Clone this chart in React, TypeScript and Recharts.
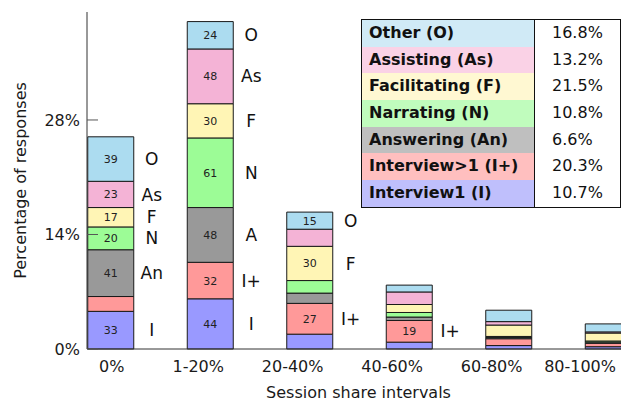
import React from 'react';
import { BarChart, Bar, XAxis, YAxis, LabelList, Legend } from 'recharts';

const CATEGORIES = ['0%', '1-20%', '20-40%', '40-60%', '60-80%', '80-100%'];

// response counts per session-share interval
const INTERVIEW1 = [33, 44, 13, 6, 3, 2];
const INTERVIEW_MULTI = [13, 32, 27, 19, 6, 3];
const ANSWERING = [41, 48, 9, 3, 1, 1];
const NARRATING = [20, 61, 11, 4, 1, 1];
const FACILITATING = [17, 30, 30, 7, 10, 7];
const ASSISTING = [23, 48, 15, 11, 3, 1];
const OTHER = [39, 24, 15, 6, 10, 7];
const TOTAL_RESPONSES = 717;

// which segments carry their count inside
const SHOW_I = [true, true, false, false, false, false];
const SHOW_IP = [false, true, true, true, false, false];
const SHOW_AN = [true, true, false, false, false, false];
const SHOW_N = [true, true, false, false, false, false];
const SHOW_F = [true, true, true, false, false, false];
const SHOW_AS = [true, true, false, false, false, false];
const SHOW_O = [true, true, true, false, false, false];

// short tags written to the right of the bars
const SIDE_I = ['I', 'I', '', '', '', ''];
const SIDE_IP = ['', 'I+', 'I+', 'I+', '', ''];
const SIDE_AN = ['An', 'A', '', '', '', ''];
const SIDE_N = ['N', 'N', '', '', '', ''];
const SIDE_F = ['F', 'F', 'F', '', '', ''];
const SIDE_AS = ['As', 'As', '', '', '', ''];
const SIDE_O = ['O', 'O', 'O', '', '', ''];

const Y_TICKS = [0, 14, 28];

const SERIES = [
  { key: 'I', name: 'Interview1 (I)', counts: INTERVIEW1, show: SHOW_I, side: SIDE_I, share: '10.7%', fill: '#9999ff', tint: '#bfbffc' },
  { key: 'Ip', name: 'Interview>1 (I+)', counts: INTERVIEW_MULTI, show: SHOW_IP, side: SIDE_IP, share: '20.3%', fill: '#ff9999', tint: '#ffbfbf' },
  { key: 'An', name: 'Answering (An)', counts: ANSWERING, show: SHOW_AN, side: SIDE_AN, share: '6.6%', fill: '#999999', tint: '#bfbfbf' },
  { key: 'N', name: 'Narrating (N)', counts: NARRATING, show: SHOW_N, side: SIDE_N, share: '10.8%', fill: '#9cfc96', tint: '#c0fcbd' },
  { key: 'F', name: 'Facilitating (F)', counts: FACILITATING, show: SHOW_F, side: SIDE_F, share: '21.5%', fill: '#fff5b5', tint: '#fff8d2' },
  { key: 'As', name: 'Assisting (As)', counts: ASSISTING, show: SHOW_AS, side: SIDE_AS, share: '13.2%', fill: '#f4b3d6', tint: '#fad2e6' },
  { key: 'O', name: 'Other (O)', counts: OTHER, show: SHOW_O, side: SIDE_O, share: '16.8%', fill: '#acdcf0', tint: '#d0eaf6' },
];

const data = CATEGORIES.map((cat, i) => {
  const row: Record<string, any> = { cat };
  SERIES.forEach((s) => { row[s.key] = (s.counts[i] / TOTAL_RESPONSES) * 100; });
  return row;
});

const FONT = '"DejaVu Sans", sans-serif';
const INK = '#1a1a1a';
const PAD = { left: -26.25, right: -27.75 };

const LeftTick = (p: any) => (
  <g>
    <line x1={p.x + 7} x2={p.x + 18} y1={p.y} y2={p.y} stroke="#555" />
    <text x={p.x} y={p.y} dy="0.36em" textAnchor="end" fontSize={16} fontFamily={FONT} fill={INK}>
      {p.payload.value}%
    </text>
  </g>
);

const RightTick = (p: any) => (
  <line x1={p.x - 11} x2={p.x} y1={p.y} y2={p.y} stroke="#555" />
);

const TopTick = (p: any) => (
  <line x1={p.x} x2={p.x} y1={p.y} y2={p.y + 11} stroke="#555" />
);

// labels hang off the right of the tick, kept inside the figure
const BottomTick = (p: any) => (
  <text x={Math.min(p.x + 14, 616)} y={p.y + 23} textAnchor="end" fontSize={16} fontFamily={FONT} fill={INK}>
    {p.payload.value}
  </text>
);

const YTitle = (p: any) => {
  const vb = p.viewBox;
  return (
    <text
      transform={`translate(${vb.x + 20}, ${vb.y + vb.height / 2}) rotate(-90)`}
      textAnchor="middle" dy="0.36em" fontSize={16} fontFamily={FONT} fill={INK}
    >
      Percentage of responses
    </text>
  );
};

const segmentLabel = (s: typeof SERIES[number]) => (p: any) => {
  const vb = p.viewBox || p;
  const i = p.index;
  const top = Math.min(vb.y, vb.y + vb.height);
  const cy = top + Math.abs(vb.height) / 2;
  const cx = vb.x + vb.width / 2;
  return (
    <g>
      {s.show[i] && (
        <text x={cx} y={cy} dy="0.36em" textAnchor="middle" fontSize={11} fontFamily={FONT} fill="#222">
          {s.counts[i]}
        </text>
      )}
      {s.side[i] && (
        <text x={cx + 41} y={cy} dy="0.36em" textAnchor="middle" fontSize={17} fontFamily={FONT} fill="#111">
          {s.side[i]}
        </text>
      )}
    </g>
  );
};

const ShareTable = () => (
  <div style={{ border: '1px solid #111', fontFamily: FONT, fontSize: 16, color: '#111', background: '#fff' }}>
    {[...SERIES].reverse().map((s) => (
      <div key={s.key} style={{ display: 'flex', height: 26.7 }}>
        <div style={{ width: 173, background: s.tint, fontWeight: 700, paddingLeft: 7, lineHeight: '26.7px', borderRight: '1px solid #111', boxSizing: 'border-box' }}>
          {s.name}
        </div>
        <div style={{ flex: 1, paddingLeft: 17, lineHeight: '26.7px' }}>{s.share}</div>
      </div>
    ))}
  </div>
);

export default function App() {
  return (
    <div style={{ position: 'absolute', left: 0, top: 0, width: 621, height: 400, overflow: 'hidden', background: '#fff' }}>
      <BarChart width={700} height={400} data={data} margin={{ top: 12, right: 70, bottom: 0, left: 0 }}>
        <YAxis
          yAxisId="left" width={87} domain={[0, 41.2]} ticks={Y_TICKS} type="number"
          axisLine={{ stroke: '#333' }} tickLine={false} tickSize={0} tickMargin={7} tick={LeftTick}
          label={{ content: YTitle }}
        />
        <YAxis
          yAxisId="right" orientation="right" width={0} domain={[0, 41.2]} ticks={Y_TICKS} type="number"
          axisLine={{ stroke: '#333' }} tickLine={false} tickSize={0} tickMargin={0} tick={RightTick}
        />
        <XAxis
          xAxisId="top" orientation="top" dataKey="cat" height={0} padding={PAD} interval={0}
          axisLine={{ stroke: '#333' }} tickLine={false} tickSize={0} tickMargin={0} tick={TopTick}
        />
        <XAxis
          xAxisId="bottom" dataKey="cat" height={51} padding={PAD} interval={0}
          axisLine={{ stroke: '#333' }} tickLine={false} tickSize={0} tickMargin={0} tick={BottomTick}
          label={{ value: 'Session share intervals', position: 'insideBottom', offset: 2.5, fontSize: 16, fontFamily: FONT, fill: INK }}
        />
        {SERIES.map((s) => (
          <Bar
            key={s.key} dataKey={s.key} name={s.name} stackId="a" xAxisId="bottom" yAxisId="left"
            barSize={46} fill={s.fill} stroke={INK} strokeWidth={1} isAnimationActive={false}
          >
            <LabelList dataKey={s.key} content={segmentLabel(s)} />
          </Bar>
        ))}
        <Legend
          layout="horizontal" verticalAlign="middle" align="center"
          wrapperStyle={{ left: 361, top: 19, width: 260 }}
          content={ShareTable}
        />
      </BarChart>
    </div>
  );
}
